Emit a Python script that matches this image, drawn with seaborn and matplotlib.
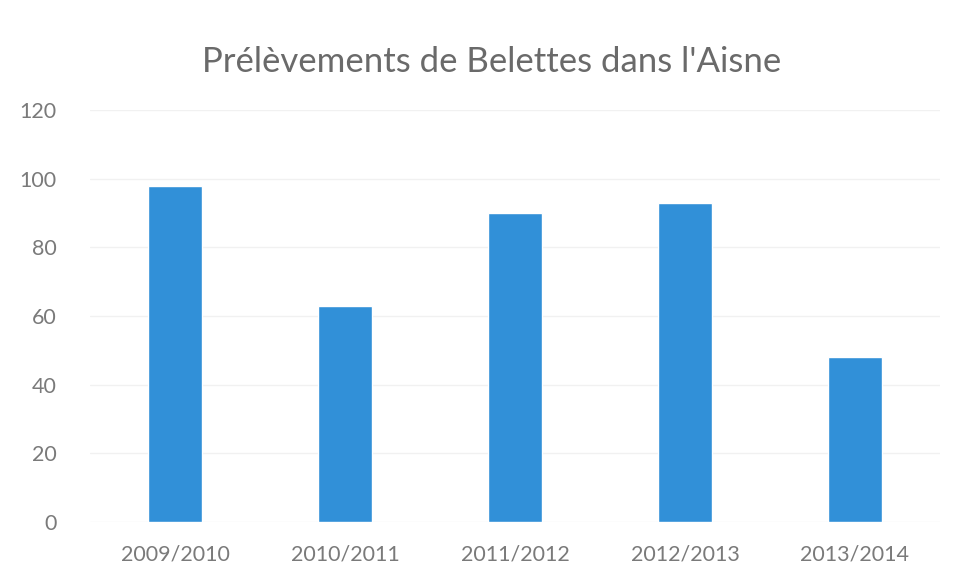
import pandas as pd
import seaborn as sns
from matplotlib import pyplot as plt

saisons = ["2009/2010", "2010/2011", "2011/2012", "2012/2013", "2013/2014"]
prelevements = [98, 63, 90, 93, 48]

df = pd.DataFrame({"Saison": saisons, "Prélèvements": prelevements})

sns.set_theme(style="white")
plt.rcParams['font.family'] = ['Lato', 'DejaVu Sans']

fig = plt.figure(figsize=(9.6, 5.8), dpi=100)
ax = fig.add_axes([0.094, 0.10, 0.885, 0.71])

sns.barplot(data=df, x="Saison", y="Prélèvements", color="#3190d8",
            saturation=1, width=0.32, ax=ax)

ax.set_ylim(0, 120)
ax.set_yticks(range(0, 121, 20))
ax.set_xlim(-0.5, 4.5)
ax.yaxis.grid(True, color="#f1f1f1", linewidth=1)
ax.set_axisbelow(True)
for s in ax.spines.values():
    s.set_visible(False)
ax.set_xlabel("")
ax.set_ylabel("")
ax.tick_params(axis="both", colors="#7a7a7a", labelsize=15.5, length=0)
ax.tick_params(axis="y", pad=24)
ax.tick_params(axis="x", pad=16)

fig.text(0.512, 0.893, "Prélèvements de Belettes dans l'Aisne", ha="center",
         va="center", fontsize=25, color="#6a6a6a")

fig.savefig("out.png", dpi=100)
